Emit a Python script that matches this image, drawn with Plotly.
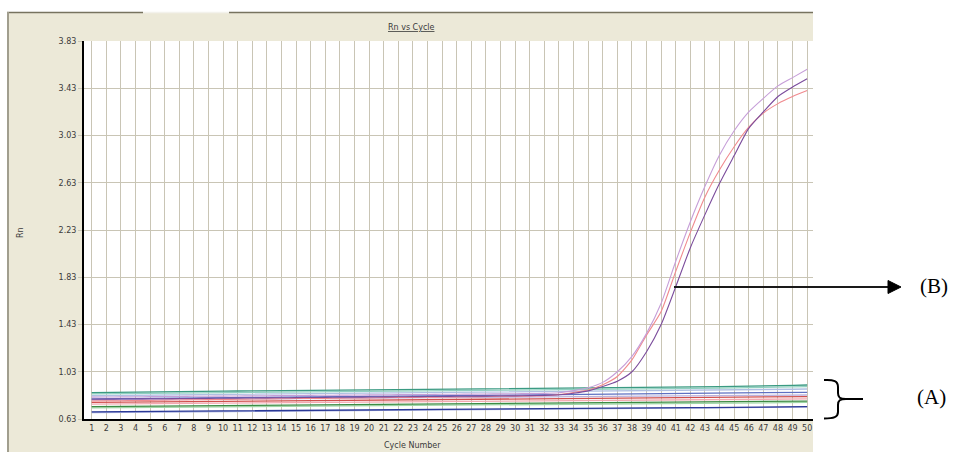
import plotly.graph_objects as go

# ---------------- data ----------------
cycles = list(range(1, 51))
y_ticks = [0.63, 1.03, 1.43, 1.83, 2.23, 2.63, 3.03, 3.43, 3.83]
y_tick_labels = ["0.63", "1.03", "1.43", "1.83", "2.23", "2.63", "3.03", "3.43", "3.83"]

teal = [0.853, 0.855, 0.858, 0.860, 0.861, 0.862, 0.863, 0.864, 0.865, 0.866,
        0.867, 0.868, 0.869, 0.870, 0.871, 0.872, 0.873, 0.874, 0.875, 0.876,
        0.877, 0.878, 0.879, 0.880, 0.881, 0.882, 0.883, 0.884, 0.885, 0.886,
        0.887, 0.888, 0.889, 0.890, 0.891, 0.892, 0.893, 0.894, 0.896, 0.898,
        0.899, 0.900, 0.902, 0.904, 0.906, 0.907, 0.909, 0.911, 0.914, 0.918]
light_teal = [0.842, 0.843, 0.845, 0.847, 0.848, 0.849, 0.850, 0.851, 0.852, 0.853,
              0.854, 0.855, 0.856, 0.857, 0.858, 0.859, 0.860, 0.861, 0.862, 0.863,
              0.864, 0.865, 0.866, 0.867, 0.868, 0.869, 0.870, 0.871, 0.872, 0.873,
              0.874, 0.875, 0.876, 0.877, 0.878, 0.879, 0.880, 0.881, 0.883, 0.885,
              0.886, 0.888, 0.889, 0.891, 0.893, 0.895, 0.897, 0.899, 0.901, 0.904]
light_blue = [0.827, 0.828, 0.830, 0.831, 0.832, 0.833, 0.834, 0.835, 0.836, 0.837,
              0.838, 0.839, 0.840, 0.841, 0.842, 0.843, 0.844, 0.845, 0.846, 0.847,
              0.848, 0.849, 0.850, 0.851, 0.852, 0.853, 0.854, 0.855, 0.856, 0.857,
              0.858, 0.859, 0.860, 0.861, 0.862, 0.863, 0.864, 0.865, 0.866, 0.868,
              0.869, 0.870, 0.872, 0.873, 0.875, 0.876, 0.878, 0.880, 0.882, 0.884]
blue = [0.800, 0.801, 0.803, 0.804, 0.805, 0.806, 0.807, 0.808, 0.809, 0.810,
        0.811, 0.812, 0.813, 0.814, 0.815, 0.816, 0.817, 0.818, 0.819, 0.820,
        0.821, 0.822, 0.823, 0.824, 0.825, 0.826, 0.827, 0.828, 0.829, 0.830,
        0.831, 0.832, 0.833, 0.834, 0.835, 0.836, 0.837, 0.838, 0.839, 0.840,
        0.841, 0.842, 0.843, 0.845, 0.846, 0.848, 0.850, 0.852, 0.854, 0.856]
pale_lavender = [0.790, 0.791, 0.792, 0.793, 0.794, 0.795, 0.796, 0.797, 0.798, 0.799,
                 0.800, 0.801, 0.802, 0.803, 0.804, 0.805, 0.806, 0.806, 0.807, 0.808,
                 0.809, 0.810, 0.811, 0.812, 0.813, 0.813, 0.814, 0.815, 0.816, 0.817,
                 0.818, 0.818, 0.819, 0.820, 0.821, 0.822, 0.822, 0.823, 0.824, 0.825,
                 0.826, 0.826, 0.827, 0.828, 0.829, 0.830, 0.830, 0.831, 0.832, 0.833]
red = [0.770, 0.771, 0.773, 0.774, 0.775, 0.776, 0.777, 0.778, 0.779, 0.780,
       0.781, 0.782, 0.783, 0.784, 0.785, 0.786, 0.787, 0.788, 0.789, 0.790,
       0.791, 0.792, 0.793, 0.794, 0.795, 0.796, 0.797, 0.798, 0.799, 0.800,
       0.801, 0.802, 0.803, 0.804, 0.805, 0.806, 0.808, 0.810, 0.811, 0.812,
       0.813, 0.814, 0.814, 0.815, 0.816, 0.816, 0.817, 0.818, 0.819, 0.820]
pink = [0.756, 0.757, 0.758, 0.759, 0.760, 0.761, 0.762, 0.763, 0.764, 0.765,
        0.766, 0.767, 0.768, 0.769, 0.770, 0.771, 0.772, 0.772, 0.773, 0.774,
        0.775, 0.776, 0.777, 0.778, 0.778, 0.779, 0.780, 0.781, 0.782, 0.783,
        0.784, 0.784, 0.785, 0.786, 0.787, 0.788, 0.789, 0.789, 0.790, 0.791,
        0.792, 0.793, 0.793, 0.794, 0.795, 0.796, 0.797, 0.798, 0.799, 0.800]
green = [0.734, 0.735, 0.736, 0.737, 0.738, 0.739, 0.740, 0.741, 0.742, 0.743,
         0.744, 0.745, 0.746, 0.747, 0.748, 0.749, 0.750, 0.751, 0.752, 0.753,
         0.754, 0.755, 0.756, 0.757, 0.758, 0.759, 0.760, 0.761, 0.762, 0.763,
         0.764, 0.765, 0.766, 0.767, 0.768, 0.769, 0.770, 0.771, 0.772, 0.773,
         0.774, 0.775, 0.776, 0.776, 0.777, 0.778, 0.779, 0.780, 0.781, 0.782]
light_green = [0.724, 0.725, 0.726, 0.727, 0.728, 0.729, 0.730, 0.731, 0.732, 0.733,
               0.734, 0.735, 0.736, 0.737, 0.738, 0.739, 0.740, 0.741, 0.742, 0.743,
               0.744, 0.745, 0.746, 0.747, 0.748, 0.749, 0.750, 0.751, 0.752, 0.753,
               0.754, 0.755, 0.756, 0.757, 0.757, 0.758, 0.759, 0.760, 0.761, 0.762,
               0.763, 0.764, 0.764, 0.765, 0.766, 0.767, 0.768, 0.768, 0.769, 0.770]
dark_blue = [0.690, 0.691, 0.692, 0.693, 0.695, 0.696, 0.697, 0.698, 0.699, 0.700,
             0.701, 0.702, 0.703, 0.704, 0.705, 0.706, 0.707, 0.707, 0.708, 0.709,
             0.710, 0.711, 0.712, 0.713, 0.713, 0.714, 0.715, 0.716, 0.717, 0.718,
             0.718, 0.719, 0.720, 0.721, 0.721, 0.722, 0.723, 0.724, 0.724, 0.725,
             0.726, 0.727, 0.727, 0.728, 0.729, 0.730, 0.731, 0.732, 0.733, 0.734]
periwinkle = [0.684, 0.685, 0.687, 0.689, 0.691, 0.692, 0.693, 0.694, 0.695, 0.696,
              0.697, 0.698, 0.699, 0.700, 0.701, 0.702, 0.703, 0.704, 0.705, 0.706,
              0.707, 0.708, 0.709, 0.710, 0.711, 0.712, 0.712, 0.713, 0.714, 0.715,
              0.716, 0.717, 0.718, 0.719, 0.719, 0.720, 0.721, 0.722, 0.723, 0.724,
              0.724, 0.725, 0.726, 0.726, 0.727, 0.728, 0.729, 0.730, 0.731, 0.732]

amp_lavender = [0.815, 0.816, 0.817, 0.818, 0.819, 0.820, 0.821, 0.822, 0.823, 0.824,
                0.825, 0.826, 0.827, 0.828, 0.829, 0.830, 0.831, 0.832, 0.833, 0.834,
                0.835, 0.836, 0.837, 0.838, 0.839, 0.840, 0.841, 0.842, 0.843, 0.844,
                0.845, 0.847, 0.852, 0.870, 0.895, 0.940, 1.030, 1.160, 1.355, 1.610,
                1.965, 2.300, 2.600, 2.865, 3.070, 3.230, 3.345, 3.450, 3.520, 3.590]
amp_pink = [0.782, 0.784, 0.785, 0.787, 0.788, 0.790, 0.791, 0.793, 0.794, 0.796,
            0.797, 0.799, 0.800, 0.801, 0.803, 0.804, 0.805, 0.807, 0.808, 0.809,
            0.811, 0.812, 0.813, 0.815, 0.816, 0.817, 0.819, 0.820, 0.822, 0.823,
            0.825, 0.828, 0.838, 0.855, 0.875, 0.920, 0.990, 1.130, 1.340, 1.540,
            1.880, 2.210, 2.510, 2.740, 2.935, 3.100, 3.220, 3.300, 3.360, 3.410]
amp_purple = [0.797, 0.798, 0.799, 0.800, 0.801, 0.802, 0.803, 0.804, 0.805, 0.806,
              0.807, 0.808, 0.809, 0.810, 0.811, 0.812, 0.813, 0.814, 0.815, 0.816,
              0.817, 0.818, 0.819, 0.820, 0.821, 0.822, 0.823, 0.824, 0.825, 0.826,
              0.828, 0.830, 0.835, 0.848, 0.868, 0.905, 0.950, 1.030, 1.200, 1.430,
              1.750, 2.080, 2.360, 2.625, 2.860, 3.090, 3.230, 3.360, 3.440, 3.510]

baseline_series = [
    (periwinkle, "#A3ABDA"), (dark_blue, "#2B3996"), (light_green, "#9ED6A6"),
    (green, "#3D8B44"), (pink, "#F3A9B1"), (red, "#D0504E"),
    (pale_lavender, "#BCB3DE"), (blue, "#5E70C2"), (light_blue, "#AFC0E2"),
    (light_teal, "#8FD0C0"), (teal, "#3A9A82"),
]
amp_series = [(amp_pink, "#F08A8E"), (amp_lavender, "#C69ED8"), (amp_purple, "#7B4C9C")]

# ---------------- layout geometry (pixels) ----------------
L, R, T, B = 84, 813, 41, 419


def px(x):
    return (x - L) / (R - L)


def py(y):
    return (B - y) / (B - T)


fig = go.Figure()
for vals, col in baseline_series:
    fig.add_trace(go.Scatter(x=cycles, y=vals, mode="lines",
                             line=dict(color=col, width=1.3), hoverinfo="skip"))
for vals, col in amp_series:
    fig.add_trace(go.Scatter(x=cycles, y=vals, mode="lines",
                             line=dict(color=col, width=1.1, shape="spline", smoothing=0.6),
                             hoverinfo="skip"))

grid = "#C9C5B5"
tick_font = dict(family="DejaVu Sans", size=8, color="#3A3A3A")

fig.update_xaxes(range=[0.473, 50.40], tickmode="array", tickvals=cycles,
                 ticktext=[str(c) for c in cycles], showgrid=True, gridcolor=grid,
                 gridwidth=1, zeroline=False, showline=True, linecolor="black",
                 linewidth=2, ticks="", tickfont=tick_font, fixedrange=True)
fig.update_yaxes(range=[0.63, 3.83], tickmode="array", tickvals=y_ticks,
                 ticktext=y_tick_labels, showgrid=True, gridcolor=grid, gridwidth=1,
                 zeroline=False, showline=True, linecolor="black", linewidth=2,
                 ticks="outside", ticklen=4, tickcolor=grid, tickfont=tick_font,
                 fixedrange=True)

shapes = [
    # beige panel
    dict(type="rect", xref="paper", yref="paper", x0=px(7), x1=px(813), y0=py(460), y1=py(12),
         fillcolor="#ECE9D8", line=dict(width=0), layer="below"),
    # white plot area
    dict(type="rect", xref="paper", yref="paper", x0=0, x1=1, y0=0, y1=1,
         fillcolor="white", line=dict(width=0), layer="below"),
    # panel borders
    dict(type="line", xref="paper", yref="paper", x0=px(7), x1=px(143), y0=py(12.5), y1=py(12.5),
         line=dict(color="#77735F", width=1.5)),
    dict(type="line", xref="paper", yref="paper", x0=px(229), x1=px(813), y0=py(12.5), y1=py(12.5),
         line=dict(color="#77735F", width=1.5)),
    dict(type="line", xref="paper", yref="paper", x0=px(143), x1=px(229), y0=py(12.5), y1=py(12.5),
         line=dict(color="#F3F2EC", width=1.5)),
    dict(type="line", xref="paper", yref="paper", x0=px(8), x1=px(8), y0=py(12), y1=py(460),
         line=dict(color="#A19E8E", width=2)),
    # arrow (B)
    dict(type="line", xref="paper", yref="paper", x0=px(674), x1=px(890), y0=py(287), y1=py(287),
         line=dict(color="#1A1A1A", width=2)),
    dict(type="path", xref="paper", yref="paper",
         path=f"M {px(888)},{py(280.5)} L {px(901)},{py(287)} L {px(888)},{py(293.5)} Z",
         fillcolor="black", line=dict(color="black", width=1)),
]

# brace (A)
brace_pts = (
    f"M {px(824)},{py(380)} "
    f"C {px(834)},{py(379.5)} {px(838)},{py(381)} {px(838)},{py(387)} "
    f"L {px(838)},{py(393)} "
    f"C {px(838)},{py(397.5)} {px(840)},{py(399)} {px(846)},{py(399)} "
    f"L {px(863)},{py(399)} "
    f"M {px(846)},{py(399)} "
    f"C {px(840)},{py(399)} {px(838)},{py(400.5)} {px(838)},{py(405)} "
    f"L {px(838)},{py(412)} "
    f"C {px(838)},{py(417)} {px(834)},{py(418.5)} {px(824)},{py(418.5)}"
)
shapes.append(dict(type="path", xref="paper", yref="paper", path=brace_pts,
                   line=dict(color="black", width=2)))

label_font = dict(family="DejaVu Sans", size=8, color="#3A3A3A")
serif = dict(family="Liberation Serif", size=21, color="black")
annotations = [
    dict(text="<u>Rn vs Cycle</u>", x=px(411), y=py(27), xref="paper", yref="paper",
         showarrow=False, font=label_font, xanchor="center", yanchor="middle"),
    dict(text="Rn", x=px(20), y=py(233), xref="paper", yref="paper", textangle=-90,
         showarrow=False, font=label_font, xanchor="center", yanchor="middle"),
    dict(text="Cycle Number", x=px(412), y=py(445), xref="paper", yref="paper",
         showarrow=False, font=label_font, xanchor="center", yanchor="middle"),
    dict(text="(B)", x=px(934), y=py(286), xref="paper", yref="paper",
         showarrow=False, font=serif, xanchor="center", yanchor="middle"),
    dict(text="(A)", x=px(931), y=py(397), xref="paper", yref="paper",
         showarrow=False, font=serif, xanchor="center", yanchor="middle"),
]

fig.update_layout(width=957, height=452, margin=dict(l=L, r=957 - R, t=T, b=452 - B, pad=0),
                  paper_bgcolor="white", plot_bgcolor="white", showlegend=False,
                  shapes=shapes, annotations=annotations)

fig.write_html("out.html", config={"displayModeBar": False},
               post_script="document.body.style.margin='0';document.body.style.overflow='hidden';")
